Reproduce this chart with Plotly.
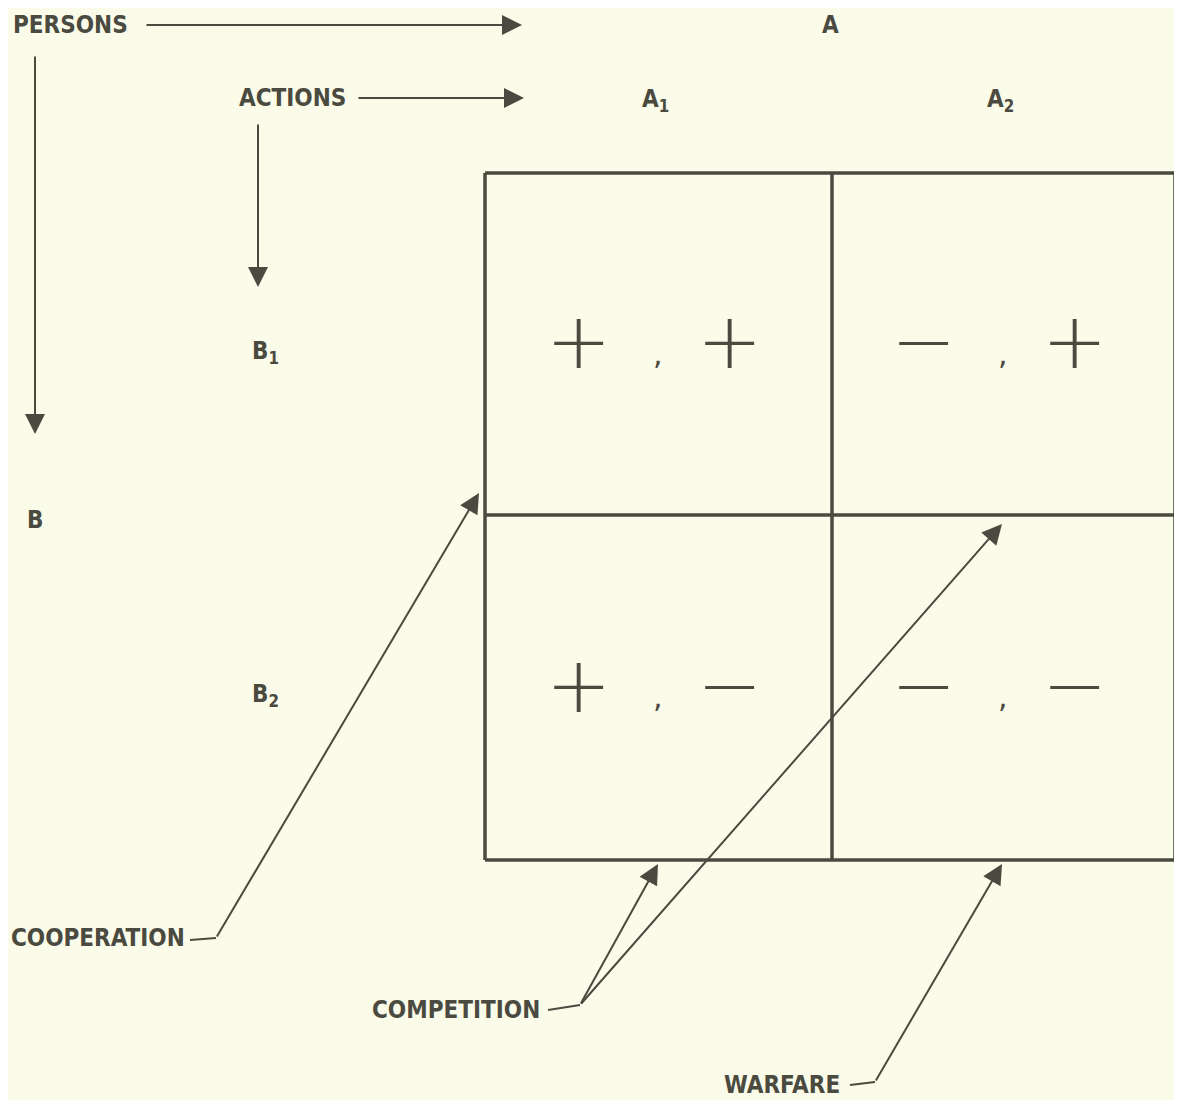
import plotly.graph_objects as go

# ---- data ----
col_labels = ["A<sub>1</sub>", "A<sub>2</sub>"]
row_labels = ["B<sub>1</sub>", "B<sub>2</sub>"]
player_labels = ["A", "B"]
axis_titles = ["PERSONS", "ACTIONS"]
# payoff signs per cell (row, col): (sign for A, sign for B)
cell_rows = [0, 0, 1, 1]
cell_cols = [0, 1, 0, 1]
sign_a = ["+", "\u2212", "+", "\u2212"]
sign_b = ["+", "+", "\u2212", "\u2212"]
relations = ["COOPERATION", "COMPETITION", "WARFARE"]

# ---- layout geometry (pixel-like diagram units) ----
W, H = 1182, 1100
PAD = 8  # default page margin of the html body
BG = "#fafbe8"
INK = "#4a4a40"
FONT = "DejaVu Sans Condensed, Liberation Sans Narrow, sans-serif"

x_edges = [485, 832, 1175]
y_edges = [173, 515, 860]
col_centers = [(x_edges[i] + x_edges[i + 1]) / 2 for i in range(2)]
row_centers = [(y_edges[i] + y_edges[i + 1]) / 2 for i in range(2)]

fig = go.Figure()
fig.add_trace(go.Scatter(x=[PAD, W], y=[PAD, H], mode="markers",
                         marker=dict(opacity=0), hoverinfo="skip", showlegend=False))

shapes = []
ann = []

def line(x0, y0, x1, y1, w=2):
    shapes.append(dict(type="line", x0=x0, y0=y0, x1=x1, y1=y1, xref="x", yref="y",
                       line=dict(color=INK, width=w)))

def arrow(x0, y0, x1, y1, w=2, size=2.0):
    ann.append(dict(x=x1, y=y1, ax=x0, ay=y0, xref="x", yref="y", axref="x", ayref="y",
                    showarrow=True, arrowhead=2, arrowsize=size, arrowwidth=w,
                    arrowcolor=INK, text="", standoff=0, startstandoff=0))

def text(x, y, s, size=24, anchor="center", bold=True, family=FONT, weight=None):
    f = dict(family=family, size=size, color=INK)
    if weight is not None:
        f["weight"] = weight
    ann.append(dict(x=x, y=y, xref="x", yref="y", text=("<b>%s</b>" % s) if bold else s,
                    showarrow=False, xanchor=anchor, yanchor="middle", font=f))

# grid
for xe in x_edges:
    line(xe, y_edges[0], xe, y_edges[-1], w=3.5)
for ye in y_edges:
    line(x_edges[0], ye, x_edges[-1], ye, w=3.5)

# cell contents
for r, c, sa, sb in zip(cell_rows, cell_cols, sign_a, sign_b):
    cx, cy = col_centers[c], row_centers[r]
    text(cx - 80, cy - 3, sa, size=78, bold=False, family="DejaVu Sans", weight=200)
    text(cx - 1, cy + 9, ",", size=30, bold=False, family="DejaVu Sans")
    text(cx + 71, cy - 3, sb, size=78, bold=False, family="DejaVu Sans", weight=200)

# headers
text(11, 25, axis_titles[0], anchor="left")
arrow(145, 25, 522, 25)
arrow(35, 55, 35, 434)
text(830, 25, player_labels[0])
text(35, 520, player_labels[1])

text(237, 98, axis_titles[1], anchor="left")
arrow(357, 98, 524, 98)
arrow(258, 123, 258, 287)

for c, lab in enumerate(col_labels):
    text(col_centers[c] - 3, 100, lab)
for r, lab in enumerate(row_labels):
    text(265, row_centers[r] + 8, lab)

# relation labels with leader arrows
text(9, 938, relations[0], anchor="left")
line(190, 940, 216, 938)
arrow(216, 938, 479, 493)

text(370, 1010, relations[1], anchor="left")
line(548, 1010, 580, 1005)
arrow(580, 1005, 658, 864)
arrow(580, 1005, 1002, 524)

text(722, 1085, relations[2], anchor="left")
line(850, 1085, 875, 1082)
arrow(875, 1082, 1002, 864)

fig.update_layout(
    width=W - PAD, height=H - PAD, margin=dict(l=0, r=0, t=0, b=0),
    paper_bgcolor=BG, plot_bgcolor=BG,
    xaxis=dict(range=[PAD, W], visible=False, fixedrange=True),
    yaxis=dict(range=[H, PAD], visible=False, fixedrange=True),
    shapes=shapes, annotations=ann, showlegend=False,
)
fig.write_html("out.html")
